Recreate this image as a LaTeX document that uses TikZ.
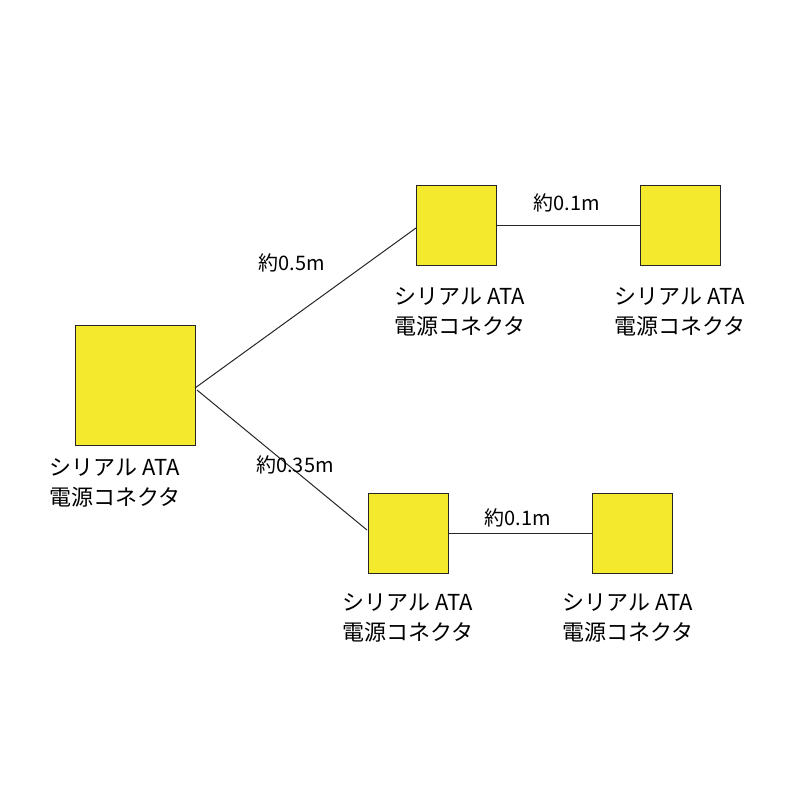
\documentclass[tikz,border=0pt]{standalone}
\usepackage{fontspec}
\setmainfont{Noto Sans CJK JP}
\definecolor{yel}{HTML}{F5E92E}
\begin{document}
\begin{tikzpicture}[x=1pt,y=-1pt,
  box/.style={draw=black!85,line width=1pt,fill=yel,inner sep=0pt},
  lbl/.style={align=center,font=\fontsize{22}{30}\selectfont},
  len/.style={font=\fontsize{20}{24}\selectfont},
  wire/.style={line width=1pt,black!85}]
\useasboundingbox (0,0) rectangle (800,800);
\node[box,minimum size=120pt] (m) at (135,385) {};
\node[box,minimum size=80pt] (a) at (456,225) {};
\node[box,minimum size=80pt] (b) at (680,225) {};
\node[box,minimum size=80pt] (c) at (408,533) {};
\node[box,minimum size=80pt] (d) at (632,533) {};
\node[lbl] (lm) at (115,483) {シリアル ATA\\電源コネクタ};
\node[lbl] (la) at (460,312) {シリアル ATA\\電源コネクタ};
\node[lbl] (lb) at (680,312) {シリアル ATA\\電源コネクタ};
\node[lbl] (lc) at (408,618) {シリアル ATA\\電源コネクタ};
\node[lbl] (ld) at (628,618) {シリアル ATA\\電源コネクタ};
\coordinate (m1) at (195,388);
\coordinate (a1) at (416,228);
\coordinate (m2) at (197,390);
\coordinate (c1) at (367,530);
\draw[wire] (m1) -- (a1);
\draw[wire] (m2) -- (c1);
\draw[wire] (a.east) -- (b.west);
\draw[wire] (c.east) -- (d.west);
\node[len] (t1) at (292,263) {約0.5m};
\node[len] (t2) at (567,203) {約0.1m};
\node[len] (t3) at (295,465) {約0.35m};
\node[len] (t4) at (518,518) {約0.1m};
\end{tikzpicture}
\end{document}
